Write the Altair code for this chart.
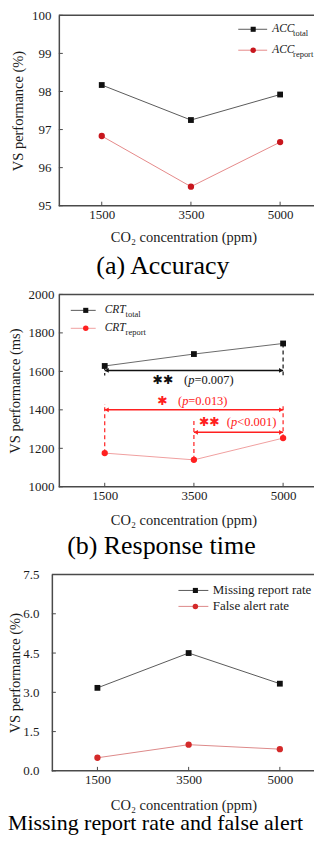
import altair as alt
import pandas as pd

# ---------------- data ----------------
co2 = ["1500", "3500", "5000"]

acc_total = [98.17, 97.25, 97.92]
acc_report = [96.83, 95.50, 96.67]

crt_total = [1628, 1690, 1745]
crt_report = [1175, 1140, 1253]

missing_rate = [3.17, 4.50, 3.33]
false_alert_rate = [0.50, 1.00, 0.83]

ticks_a = [95, 96, 97, 98, 99, 100]
ticks_b = [1000, 1200, 1400, 1600, 1800, 2000]
ticks_c = [0.0, 1.5, 3.0, 4.5, 6.0, 7.5]

x_title = "CO₂ concentration (ppm)"
y_titles = ["VS performance (%)", "VS performance (ms)", "VS performance (%)"]
captions = ["(a) Accuracy", "(b) Response time", "Missing report rate and false alert"]

legend_a_main = ["ACC", "ACC"]
legend_b_main = ["CRT", "CRT"]
legend_sub = ["total", "report"]
legend_c = ["Missing report rate", "False alert rate"]

# significance annotations (panel b)
sig_x1 = ["1500", "1500", "3500"]
sig_x2 = ["5000", "5000", "5000"]
sig_level = [1605, 1400, 1283]
sig_grp = ["total", "report", "report"]
sig_stars = ["✱✱", "✱", "✱✱"]
sig_open = ["(", "(", "("]
sig_sym = ["p", "p", "p"]
sig_rest = ["=0.007)", "=0.013)", "<0.001)"]
sig_text_v = [1555, 1445, 1335]

dash_x = ["1500", "5000", "1500", "5000", "3500"]
dash_from = [1628, 1745, 1175, 1253, 1140]
dash_to = [1578, 1578, 1430, 1430, 1345]
dash_grp = ["total", "total", "report", "report", "report"]

# ---------------- style ----------------
FONT = "Liberation Serif"
FRAME = "#4a4a4a"
TXT = "#1a1a1a"
FRAME_EXT = 6  # frame lines run on a little past the last category


def x_enc(pad, align, field="co2", tp=9):
    return alt.X(
        f"{field}:N", sort=co2,
        scale=alt.Scale(type="point", padding=pad, align=align),
        axis=alt.Axis(title=x_title, labelAngle=0, ticks=False, tickSize=0, domain=False, grid=False,
                      labelPadding=3, titlePadding=tp, labelFont=FONT, labelFontSize=13,
                      titleFont=FONT, titleFontSize=14.5, titleFontWeight="normal",
                      labelColor=TXT, titleColor=TXT),
    )


def y_enc(field, title, dom, vals, fmt, lp, tx, offset=0):
    return alt.Y(
        f"{field}:Q",
        scale=alt.Scale(domain=dom, nice=False, zero=False),
        axis=alt.Axis(title=title, values=vals, format=fmt, ticks=False, tickSize=0, domain=True,
                      domainColor=FRAME, domainWidth=1.5, grid=False, offset=offset,
                      labelPadding=lp, titleX=tx, titleBaseline="middle",
                      labelFont=FONT, labelFontSize=13,
                      titleFont=FONT, titleFontSize=14.5, titleFontWeight="normal",
                      labelColor=TXT, titleColor=TXT),
    )


def series(values, xe, ye, line_color, pt_color, shape, size):
    df = pd.DataFrame({"co2": co2, "v": values})
    base = alt.Chart(df).encode(x=xe, y=ye)
    return [base.mark_line(color=line_color, strokeWidth=1),
            base.mark_point(shape=shape, filled=True, opacity=1, color=pt_color, size=size)]


def frame_parts(xe, ye, tick_vals, w, h, x0=0):
    frame_df = pd.DataFrame({"t": [0]})
    out = [
        alt.Chart(frame_df).mark_rule(color=FRAME, strokeWidth=1.5).encode(
            x=alt.value(x0), x2=alt.value(w + FRAME_EXT), y=alt.value(0)),
        alt.Chart(frame_df).mark_rule(color=FRAME, strokeWidth=1.5).encode(
            x=alt.value(x0), x2=alt.value(w + FRAME_EXT), y=alt.value(h)),
        alt.Chart(pd.DataFrame({"co2": co2})).mark_rule(color=FRAME, strokeWidth=1).encode(
            x=xe, y=alt.value(h), y2=alt.value(h - 4)),
        alt.Chart(pd.DataFrame({"v": tick_vals})).mark_rule(color=FRAME, strokeWidth=1).encode(
            y=ye, x=alt.value(x0), x2=alt.value(x0 + 4)),
    ]
    return out


def legend_row(label, sub, ry, x0, x1, xm, xt, line_color, pt_color, shape, size,
               italic=True, fsize=11.5, sub_dx=21):
    df = pd.DataFrame({"t": [label], "s": [sub]})
    base = alt.Chart(df)
    out = [
        base.mark_rule(color=line_color, strokeWidth=1).encode(
            x=alt.value(x0), x2=alt.value(x1), y=alt.value(ry)),
        base.mark_point(shape=shape, filled=True, opacity=1, color=pt_color, size=size).encode(
            x=alt.value(xm), y=alt.value(ry)),
        base.mark_text(align="left", baseline="middle", font=FONT, fontSize=fsize,
                       fontStyle="italic" if italic else "normal", color=TXT).encode(
            x=alt.value(xt), y=alt.value(ry), text="t:N"),
    ]
    if sub:
        out.append(base.mark_text(align="left", baseline="middle", font=FONT, fontSize=8.5,
                                  color=TXT).encode(
            x=alt.value(xt + sub_dx), y=alt.value(ry + 4), text="s:N"))
    return out


def caption(text, size, offset, anchor="middle"):
    return alt.TitleParams(text, orient="bottom", anchor=anchor, frame="bounds", font=FONT,
                           fontSize=size, fontWeight="normal", color="black", offset=offset)


# ---------------- panel (a) ----------------
WA, HA = 250, 191
xa = x_enc(0.397, 0.606)
ya = y_enc("v", y_titles[0], [95, 100], ticks_a, "d", 8, -40)
red_a_pt = "#c8161d"
red_a_ln = "#e58a8a"
layers_a = (
    series(acc_total, xa, ya, "#5a5a5a", "#111111", "square", 34)
    + series(acc_report, xa, ya, red_a_ln, red_a_pt, "circle", 40)
    + frame_parts(xa, ya, ticks_a, WA, HA)
    + legend_row(legend_a_main[0], legend_sub[0], 14, 180, 209, 195, 214, "#5a5a5a", "#111111", "square", 26)
    + legend_row(legend_a_main[1], legend_sub[1], 35, 180, 209, 195, 214, red_a_ln, red_a_pt, "circle", 30)
)
panel_a = alt.layer(*layers_a).properties(width=WA, height=HA, title=caption(captions[0], 26, 9))

# ---------------- panel (b) ----------------
WB, HB = 250, 193
xb = x_enc(0.397, 0.648, tp=11)


def yb(field):
    return y_enc(field, y_titles[1], [1000, 2000], ticks_b, "d", 5, -43)


red_b = "#ff2020"
red_b_ln = "#f0a0a0"
grp_color = alt.Color("grp:N", scale=alt.Scale(domain=["total", "report"], range=["#111111", red_b]),
                      legend=None)

dash_df = pd.DataFrame({"co2": dash_x, "v": dash_from, "v2": dash_to, "grp": dash_grp})
dashes = alt.Chart(dash_df).mark_rule(strokeDash=[4, 3], strokeWidth=1.2).encode(
    x=xb, y=yb("v"), y2="v2:Q", color=grp_color)

br_df = pd.DataFrame({"co2": sig_x1, "co2_end": sig_x2, "v": sig_level, "grp": sig_grp})
brackets = alt.Chart(br_df).mark_rule(strokeWidth=1.5).encode(
    x=xb, x2="co2_end", y=yb("v"), color=grp_color)
arrow_l = alt.Chart(br_df).mark_point(shape="triangle-left", filled=True, opacity=1, size=22, xOffset=2).encode(
    x=xb, y=yb("v"), color=grp_color)
arrow_r = alt.Chart(br_df).mark_point(shape="triangle-right", filled=True, opacity=1, size=22, xOffset=-2).encode(
    x=x_enc(0.397, 0.648, "co2_end", tp=11), y=yb("v"), color=grp_color)

# text offsets relative to the 3500 category, one annotation each
star_dx = [-31, -31.5, 15.5]
open_dx = [-10, -16, 33]
sym_dx = [-5.8, -11.8, 37.2]
rest_dx = [0.5, -5.6, 43.5]
sig_texts = []
for i in range(3):
    df = pd.DataFrame({"co2": ["3500"], "v": [sig_text_v[i]], "grp": [sig_grp[i]],
                       "st": [sig_stars[i]], "o": [sig_open[i]], "p": [sig_sym[i]], "r": [sig_rest[i]]})
    b = alt.Chart(df).encode(x=xb, y=yb("v"), color=grp_color)
    sig_texts += [
        b.mark_text(align="center", baseline="middle", font="DejaVu Sans", fontSize=12.5,
                    fontWeight="bold", dx=star_dx[i]).encode(text="st:N"),
        b.mark_text(align="left", baseline="middle", font=FONT, fontSize=12.5, dx=open_dx[i]).encode(text="o:N"),
        b.mark_text(align="left", baseline="middle", font=FONT, fontSize=12.5, fontStyle="italic",
                    dx=sym_dx[i]).encode(text="p:N"),
        b.mark_text(align="left", baseline="middle", font=FONT, fontSize=12.5, dx=rest_dx[i]).encode(text="r:N"),
    ]

layers_b = (
    [dashes, brackets, arrow_l, arrow_r]
    + series(crt_total, xb, yb("v"), "#6a6a6a", "#111111", "square", 34)
    + series(crt_report, xb, yb("v"), red_b_ln, red_b, "circle", 40)
    + sig_texts
    + frame_parts(xb, yb("v"), ticks_b, WB, HB)
    + legend_row(legend_b_main[0], legend_sub[0], 16, 12, 37, 27, 46, "#5a5a5a", "#111111", "square", 26)
    + legend_row(legend_b_main[1], legend_sub[1], 34, 12, 37, 27, 46, red_b_ln, red_b, "circle", 30)
)
panel_b = alt.layer(*layers_b).properties(width=WB, height=HB, title=caption(captions[1], 26, 6))

# ---------------- panel (c) ----------------
# the y axis of this panel sits 7px further left than in (a) and (b)
WC, HC = 250, 197
xc = x_enc(0.366, 0.578, tp=12)
yc = y_enc("v", y_titles[2], [0, 7.5], ticks_c, ".1f", 13, -36, offset=7)
red_c = "#d42a2a"
red_c_ln = "#dd8a8a"
layers_c = (
    series(missing_rate, xc, yc, "#5a5a5a", "#111111", "square", 34)
    + series(false_alert_rate, xc, yc, red_c_ln, red_c, "circle", 40)
    + frame_parts(xc, yc, ticks_c, WC, HC, x0=-7)
    + legend_row(legend_c[0], "", 16, 120, 150, 137, 154.5, "#5a5a5a", "#111111", "square", 26,
                 italic=False, fsize=13)
    + legend_row(legend_c[1], "", 32, 120, 150, 137, 154.5, red_c_ln, red_c, "circle", 30,
                 italic=False, fsize=13)
)
panel_c = alt.layer(*layers_c).properties(width=WC, height=HC,
                                          title=caption(captions[2], 22, 1, anchor="start"))

chart = alt.ConcatChart(
    concat=[panel_a, panel_b, panel_c], columns=1, spacing=9, align="none", bounds="full"
).configure_view(strokeWidth=0).properties(
    padding={"left": 0, "top": 0, "right": 0, "bottom": 0}
)

chart.save("out.html", embed_options={"renderer": "svg", "actions": False})
